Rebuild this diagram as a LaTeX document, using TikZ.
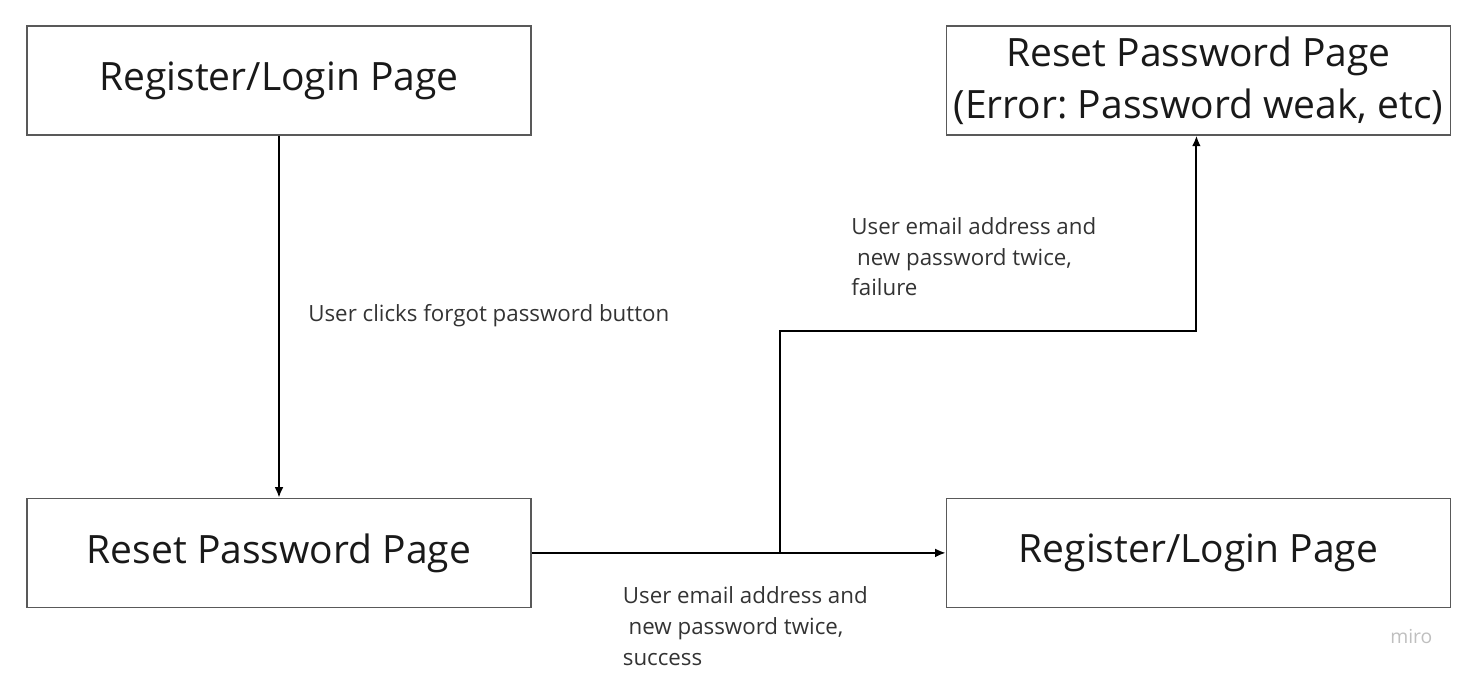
\documentclass[tikz,border=0pt]{standalone}
\usepackage{fontspec}
\setmainfont{Open Sans}
\frenchspacing
\usetikzlibrary{arrows.meta,positioning,calc}

\begin{document}
\begin{tikzpicture}
[node distance=1cm,
page/.style={shape=rectangle,draw=black!65,line width=0.8pt,minimum width=10.08cm,minimum height=2.18cm,inner sep=0pt,align=center,text=black!90,font=\fontsize{22.2}{29.6}\selectfont},
note/.style={anchor=base west,inner sep=0pt,align=left,text=black!80,font=\fontsize{12.7}{17.6}\selectfont},
dedge/.style={>={Latex[length=6pt,width=5pt]}, shorten >=.0pt, shorten <=.0pt, line width=1.1pt}]

\useasboundingbox (0,0) rectangle (29.42,-13.58);

\node (login1) [page] at (5.58,-1.61) {Register/Login Page};
\node (reset) [page,below=7.24cm of login1] {Reset Password Page};
\node (login2) [page,right=8.28cm of reset] {Register/Login Page};
\node (error) [page,above=7.24cm of login2] {Reset Password Page\\(Error: Password weak, etc)};

\coordinate (split) at ($(reset.east)!0.6!(login2.west)$);
\coordinate (turn) at ($(error.south)+(-0.04,-3.9)$);

\draw[dedge,->] (login1) -- (reset);
\draw[dedge,->] (reset) -- (login2);
\draw[dedge,->] (split) |- (turn) -- (turn |- error.south);

% base of a note is the baseline of its last line
\node (forgot) [note] at (6.16,-6.43) {User clicks forgot password button};
\node (fail) [note] at (17.02,-5.92) {User email address and\\\ new password twice,\\failure};
\node (ok) [note] at (12.45,-13.3) {User email address and\\\ new password twice,\\success};

\node (miro) [anchor=base west,inner sep=0pt,text=black!25,font=\fontsize{11}{13}\selectfont] at (27.8,-12.86) {miro};

\end{tikzpicture}
\end{document}
